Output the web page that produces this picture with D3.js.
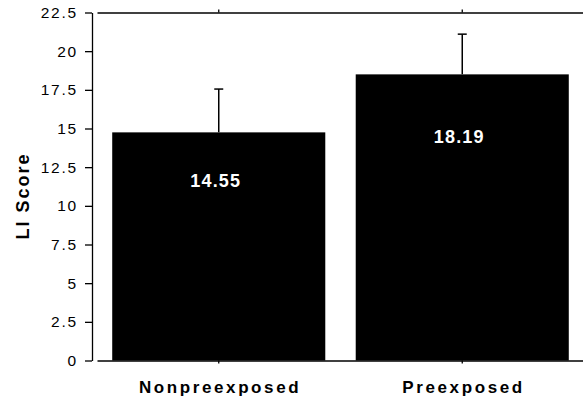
<!DOCTYPE html>
<meta charset="utf-8">
<style>
body { margin: 0; background: #fff; }
svg { font-family: Arial, "Liberation Sans", sans-serif; }
.axis path, .axis line { stroke: #000; stroke-width: 1.3; }
</style>
<svg width="583" height="400"></svg>
<script src="https://d3js.org/d3.v7.min.js"></script>
<script>

var groups = ["Nonpreexposed", "Preexposed"];
var means = [14.75, 18.5];          // bar heights as drawn
var sems = [2.8, 2.6];              // upper error bar lengths
var valueLabels = ["14.55", "18.19"];
var yTicks = [0, 2.5, 5, 7.5, 10, 12.5, 15, 17.5, 20, 22.5];

var svg = d3.select("svg");

var y = d3.scaleLinear()
    .domain([0, 22.5])
    .range([360.5, 12.5]);

var x = d3.scaleBand()
    .domain(groups)
    .range([97, 584])
    .paddingInner(0.125)
    .paddingOuter(0.0625);

// y axis
svg.append("g")
    .attr("class", "axis")
    .attr("transform", "translate(92,0)")
    .call(d3.axisLeft(y)
      .tickValues(yTicks)
      .tickSize(7)
      .tickSizeOuter(0)
      .tickPadding(7)
      .tickFormat(function(d) { return d; }))
  .selectAll("text")
    .attr("font-family", "Arial, 'Liberation Sans', sans-serif")
    .attr("font-size", "15.5px")
    .attr("letter-spacing", "1.8px")
    .attr("fill", "#000");

// bottom axis
svg.append("g")
    .attr("class", "axis")
    .attr("transform", "translate(0,360.5)")
    .call(d3.axisBottom(x)
      .tickSize(3)
      .tickSizeOuter(0)
      .tickPadding(17))
  .selectAll("text")
    .attr("font-family", "Arial, 'Liberation Sans', sans-serif")
    .attr("font-size", "17px")
    .attr("font-weight", "bold")
    .attr("letter-spacing", "2.6px")
    .attr("fill", "#000")
    .attr("dx", "1.3px");

// top frame line
svg.append("g")
    .attr("class", "axis")
    .attr("transform", "translate(0,12.5)")
    .call(d3.axisTop(x)
      .tickSize(3)
      .tickSizeOuter(0)
      .tickFormat(""));

var data = groups.map(function(g, i) {
  return { group: g, mean: means[i], sem: sems[i], label: valueLabels[i] };
});

svg.append("g")
  .selectAll("rect")
  .data(data)
  .enter().append("rect")
    .attr("x", function(d) { return x(d.group); })
    .attr("y", function(d) { return y(d.mean); })
    .attr("width", x.bandwidth())
    .attr("height", function(d) { return y(0) - y(d.mean); })
    .attr("fill", "#000");

// error bars (upper only)
var err = svg.append("g")
    .attr("stroke", "#000")
    .attr("stroke-width", 1.5)
  .selectAll("g")
  .data(data)
  .enter().append("g");

err.append("line")
    .attr("x1", function(d) { return x(d.group) + x.bandwidth() / 2; })
    .attr("x2", function(d) { return x(d.group) + x.bandwidth() / 2; })
    .attr("y1", function(d) { return y(d.mean); })
    .attr("y2", function(d) { return y(d.mean + d.sem); });

err.append("line")
    .attr("x1", function(d) { return x(d.group) + x.bandwidth() / 2 - 4.5; })
    .attr("x2", function(d) { return x(d.group) + x.bandwidth() / 2 + 4.5; })
    .attr("y1", function(d) { return y(d.mean + d.sem); })
    .attr("y2", function(d) { return y(d.mean + d.sem); });

// value labels inside bars
svg.append("g")
  .selectAll("text")
  .data(data)
  .enter().append("text")
    .attr("x", function(d) { return x(d.group) + x.bandwidth() / 2 - 3; })
    .attr("y", function(d) { return y(d.mean * 0.76); })
    .attr("text-anchor", "middle")
    .attr("fill", "#fff")
    .attr("font-size", 18)
    .attr("font-weight", "bold")
    .attr("letter-spacing", "1.2px")
    .text(function(d) { return d.label; });

svg.append("text")
    .attr("transform", "translate(29,196) rotate(-90)")
    .attr("text-anchor", "middle")
    .attr("font-size", 18)
    .attr("font-weight", "bold")
    .attr("letter-spacing", "2px")
    .attr("fill", "#000")
    .text("LI Score");

</script>
